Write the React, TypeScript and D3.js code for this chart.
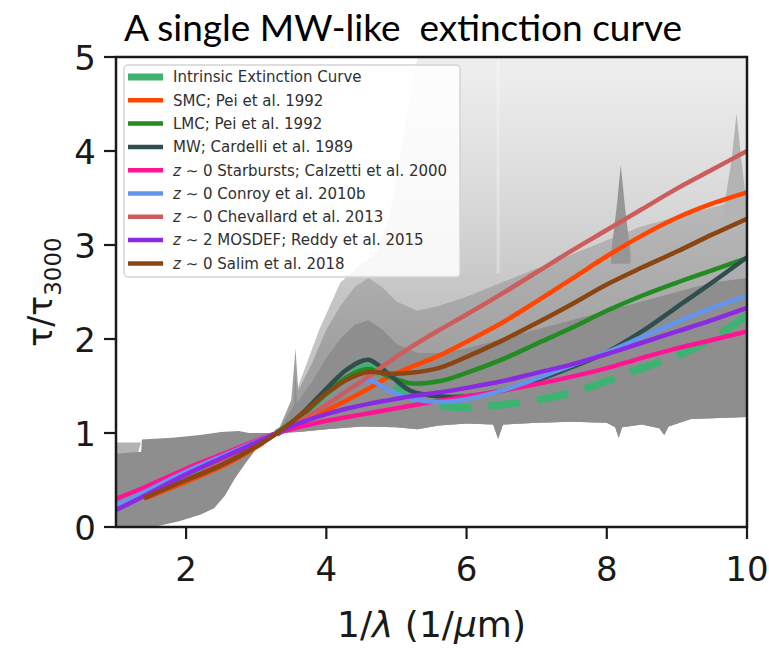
import React from "react";
import * as d3 from "d3";

const W = 769;
const H = 648;
const M = { left: 116, right: 747, top: 57, bottom: 527 };

const titleText = "A single MW-like  extinction curve";
const xTicks = [2, 4, 6, 8, 10];
const yTicks = [0, 1, 2, 3, 4, 5];

// shared x grid for the model curves (1/micron)
const xGrid = [1.0, 1.4, 2.0, 2.5, 3.0, 3.3, 3.6, 4.0, 4.3, 4.6, 4.9, 5.2, 5.6, 6.0, 6.5, 7.0, 7.5, 8.0, 8.5, 9.0, 9.5, 10];

const intrinsic = [null, 0.32, 0.52, 0.68, 0.87, 1.0, 1.15, 1.42, 1.6, 1.7, 1.55, 1.4, 1.3, 1.27, 1.3, 1.35, 1.43, 1.55, 1.69, 1.82, 2.0, 2.25];
const smc = [null, 0.3, 0.48, 0.64, 0.85, 1.0, 1.1, 1.24, 1.35, 1.47, 1.6, 1.7, 1.82, 1.97, 2.17, 2.4, 2.64, 2.88, 3.1, 3.29, 3.44, 3.56];
const lmc = [null, 0.36, 0.59, 0.75, 0.91, 1.0, 1.15, 1.42, 1.6, 1.68, 1.6, 1.53, 1.55, 1.64, 1.78, 1.95, 2.12, 2.3, 2.46, 2.6, 2.73, 2.86];
const mw = [null, 0.31, 0.5, 0.66, 0.86, 1.0, 1.17, 1.47, 1.68, 1.78, 1.62, 1.45, 1.39, 1.39, 1.45, 1.56, 1.7, 1.86, 2.08, 2.34, 2.6, 2.87];
const calzetti = [0.3, 0.42, 0.62, 0.77, 0.92, 1.0, 1.06, 1.13, 1.17, 1.21, 1.25, 1.29, 1.34, 1.39, 1.45, 1.52, 1.6, 1.69, 1.8, 1.9, 1.99, 2.08];
const conroy = [0.23, 0.37, 0.59, 0.75, 0.91, 1.0, 1.12, 1.3, 1.45, 1.56, 1.45, 1.37, 1.33, 1.36, 1.45, 1.58, 1.72, 1.86, 2.02, 2.18, 2.33, 2.46];
const chevallard = [null, 0.31, 0.5, 0.68, 0.88, 1.0, 1.12, 1.3, 1.45, 1.6, 1.76, 1.91, 2.09, 2.26, 2.48, 2.71, 2.94, 3.16, 3.38, 3.6, 3.8, 4.0];
const reddy = [0.18, 0.33, 0.56, 0.73, 0.9, 1.0, 1.1, 1.2, 1.26, 1.31, 1.35, 1.39, 1.43, 1.48, 1.55, 1.64, 1.73, 1.84, 1.96, 2.08, 2.2, 2.33];
const salim = [null, 0.31, 0.5, 0.66, 0.86, 1.0, 1.17, 1.42, 1.57, 1.65, 1.63, 1.64, 1.69, 1.81, 1.98, 2.17, 2.37, 2.58, 2.76, 2.93, 3.11, 3.28];

const seriesNames = [
  "Intrinsic Extinction Curve",
  "SMC; Pei et al. 1992",
  "LMC; Pei et al. 1992",
  "MW; Cardelli et al. 1989",
  "z ~ 0 Starbursts; Calzetti et al. 2000",
  "z ~ 0 Conroy et al. 2010b",
  "z ~ 0 Chevallard et al. 2013",
  "z ~ 2 MOSDEF; Reddy et al. 2015",
  "z ~ 0 Salim et al. 2018",
];
const seriesValues = [intrinsic, smc, lmc, mw, calzetti, conroy, chevallard, reddy, salim];
const seriesColors = ["#3cb371", "#ff4500", "#228b22", "#2f4f4f", "#ff1493", "#6495ed", "#cd5c5c", "#8a2be2", "#8b4513"];

// grey cloud of individual attenuation curves: envelopes
const cloudBottom = [[1.0, 0.0], [1.6, 0.01], [1.9, 0.06], [2.2, 0.13], [2.4, 0.2], [2.55, 0.33], [2.7, 0.52], [2.85, 0.68], [3.0, 0.83], [3.15, 0.93], [3.3, 1.0], [3.6, 1.01], [4.0, 1.04], [4.5, 1.07], [5.0, 1.06], [5.3, 1.04], [5.6, 1.08], [6.0, 1.1], [6.38, 1.09], [6.45, 0.94], [6.52, 1.09], [7.0, 1.11], [7.5, 1.12], [8.0, 1.11], [8.12, 1.06], [8.17, 0.95], [8.22, 1.06], [8.5, 1.09], [8.75, 1.05], [8.82, 0.98], [8.88, 1.07], [9.2, 1.15], [9.6, 1.16], [10, 1.17]];
const coreTop = [[1.0, 0.78], [1.36, 0.8], [1.37, 0.93], [1.8, 0.95], [2.2, 0.98], [2.5, 1.01], [2.75, 1.02], [2.9, 1.0], [3.3, 1.0], [3.5, 1.25], [3.54, 1.3], [3.56, 1.65], [3.58, 1.32], [3.8, 1.55], [4.0, 1.8], [4.2, 2.0], [4.4, 2.15], [4.6, 2.2], [4.8, 2.1], [5.0, 1.95], [5.3, 1.85], [5.6, 1.85], [6.0, 1.9], [6.5, 2.0], [7.0, 2.1], [7.5, 2.2], [8.0, 2.3], [8.5, 2.4], [9.0, 2.5], [9.5, 2.6], [10, 2.65]];
const leftStripTop = [[1.0, 0.9], [1.36, 0.9], [1.37, 0.93]];
const midTop = [[3.3, 1.0], [3.5, 1.35], [3.56, 1.9], [3.6, 1.45], [3.8, 1.75], [4.0, 2.1], [4.2, 2.35], [4.4, 2.55], [4.6, 2.65], [4.8, 2.55], [5.0, 2.4], [5.3, 2.3], [5.6, 2.35], [6.0, 2.45], [6.5, 2.6], [7.0, 2.75], [7.5, 2.9], [8.0, 3.05], [8.5, 3.2], [9.0, 3.3], [9.5, 3.4], [10, 3.5]];
const faintTop = [[3.3, 1.0], [3.6, 1.5], [3.9, 2.1], [4.2, 2.6], [4.5, 2.8], [4.7, 2.9], [4.9, 3.3], [5.1, 4.2], [5.3, 5.0], [10, 5.0]];
const spike82 = [[8.06, 2.9], [8.14, 3.4], [8.2, 3.85], [8.26, 3.4], [8.34, 2.9]];
const spike98 = [[9.65, 3.3], [9.78, 3.9], [9.85, 4.4], [9.92, 3.9], [10, 3.4]];
const paleColumn = [[6.45, 2.7], [6.45, 5.0]];

const x = d3.scaleLinear().domain([1, 10]).range([M.left, M.right]);
const y = d3.scaleLinear().domain([0, 5]).range([M.bottom, M.top]);

const ptLine = d3.line<number[]>().x((d) => x(d[0])).y((d) => y(d[1]));

function band(upper: number[][], lower: number[][]): string {
  const lo = lower.filter((p) => p[0] >= upper[0][0] - 1e-9 && p[0] <= upper[upper.length - 1][0] + 1e-9);
  const up = ptLine(upper) || "";
  const down = (ptLine(lo.slice().reverse()) || "").replace(/^M/, "L");
  return up + down + "Z";
}

function spikePath(pts: number[][], base: number): string {
  const closed = [[pts[0][0], base], ...pts, [pts[pts.length - 1][0], base]];
  return (ptLine(closed) || "") + "Z";
}

const curve = d3
  .line<[number, number | null]>()
  .defined((d) => d[1] !== null)
  .x((d) => x(d[0]))
  .y((d) => y(d[1] as number))
  .curve(d3.curveCatmullRom.alpha(0.5));

function LegendLabel({ text }: { text: string }) {
  const m = text.match(/^z ~ (\d)(.*)$/);
  if (m) {
    return (
      <>
        <tspan fontStyle="italic">z</tspan>
        <tspan>{" \u223C " + m[1] + m[2]}</tspan>
      </>
    );
  }
  return <tspan>{text}</tspan>;
}

export default function App() {
  const tickFont = "DejaVu Sans, sans-serif";
  const legX = 124;
  const legY = 65;
  const rowH = 23.3;
  const ink = "#1a1a1a";
  return (
    <svg width={W} height={H} style={{ display: "block", position: "absolute", left: 0, top: 0, background: "#fff" }}>
      <defs>
        <clipPath id="plotclip">
          <rect x={M.left} y={M.top} width={M.right - M.left} height={M.bottom - M.top} />
        </clipPath>
        <linearGradient id="sparse" gradientUnits="userSpaceOnUse" x1={0} x2={0} y1={y(2.4)} y2={y(4.8)}>
          <stop offset="0" stopColor="#c4c4c4" />
          <stop offset="0.45" stopColor="#d9d9d9" />
          <stop offset="1" stopColor="#ededed" />
        </linearGradient>
        <linearGradient id="midg" gradientUnits="userSpaceOnUse" x1={0} x2={0} y1={y(1.8)} y2={y(3.4)}>
          <stop offset="0" stopColor="#a0a0a0" />
          <stop offset="1" stopColor="#b8b8b8" />
        </linearGradient>
      </defs>
      <rect x={0} y={0} width={W} height={H} fill="#fff" />
      <text x={403} y={41} textAnchor="middle" fontFamily="Lato, sans-serif" fontSize={37} fill="#000" style={{ whiteSpace: "pre" }}>
        {titleText}
      </text>

      <g clipPath="url(#plotclip)">
        <path d={band(faintTop, cloudBottom)} fill="url(#sparse)" />
        <path d={band(midTop, cloudBottom)} fill="url(#midg)" />
        <path d={spikePath(spike82, 2.8)} fill="#969696" />
        <path d={spikePath(spike98, 3.2)} fill="#b4b4b4" />
        <path d={band(leftStripTop, cloudBottom)} fill="#b3b3b3" />
        <path d={band(coreTop, cloudBottom)} fill="#8e8e8e" />
        <path d={ptLine(paleColumn) || ""} stroke="#ffffff" strokeOpacity={0.3} strokeWidth={3} fill="none" />

        {seriesValues.map((vals, i) => {
          const data = xGrid.map((xv, j) => [xv, vals[j]] as [number, number | null]);
          return (
            <path
              key={i}
              d={curve(data) || ""}
              fill="none"
              stroke={seriesColors[i]}
              strokeWidth={i === 0 ? 7.5 : 4.5}
              strokeDasharray={i === 0 ? "32,17" : undefined}
              strokeLinecap="butt"
              strokeLinejoin="round"
            />
          );
        })}
      </g>

      {/* legend */}
      <rect x={legX} y={legY} width={336} height={212} rx={4} fill="#fff" fillOpacity={0.85} stroke="#d4d4d4" strokeWidth={1.5} />
      {seriesNames.map((name, i) => {
        const cy = legY + 12 + i * rowH;
        return (
          <g key={name}>
            <line x1={legX + 4} x2={legX + 39} y1={cy} y2={cy} stroke={seriesColors[i]} strokeWidth={i === 0 ? 7 : 4.5} />
            <text x={legX + 49} y={cy + 5.3} fontFamily={tickFont} fontSize={15} fill="#303030">
              <LegendLabel text={name} />
            </text>
          </g>
        );
      })}

      {/* frame */}
      <rect x={M.left} y={M.top} width={M.right - M.left} height={M.bottom - M.top} fill="none" stroke={ink} strokeWidth={2.5} />

      {/* ticks */}
      {xTicks.map((t) => (
        <g key={"x" + t}>
          <line x1={x(t)} x2={x(t)} y1={M.bottom} y2={M.bottom + 12} stroke={ink} strokeWidth={2.2} />
          <text x={x(t)} y={M.bottom + 54} textAnchor="middle" fontFamily={tickFont} fontSize={34} fill={ink}>
            {t}
          </text>
        </g>
      ))}
      {yTicks.map((t) => (
        <g key={"y" + t}>
          <line x1={M.left - 12} x2={M.left} y1={y(t)} y2={y(t)} stroke={ink} strokeWidth={2.2} />
          <text x={M.left - 20} y={y(t) + 12.5} textAnchor="end" fontFamily={tickFont} fontSize={34} fill={ink}>
            {t}
          </text>
        </g>
      ))}

      {/* axis labels */}
      <text x={(M.left + M.right) / 2} y={637} textAnchor="middle" fontFamily={tickFont} fontSize={36} fill={ink}>
        <tspan>1/</tspan>
        <tspan fontStyle="italic">λ</tspan>
        <tspan> (1/</tspan>
        <tspan fontStyle="italic">μ</tspan>
        <tspan>m)</tspan>
      </text>
      <text transform={`translate(52,${(M.top + M.bottom) / 2}) rotate(-90)`} textAnchor="middle" fontFamily={tickFont} fontSize={33} fill={ink}>
        <tspan>τ/τ</tspan>
        <tspan fontSize={23} dy={9}>3000</tspan>
      </text>
    </svg>
  );
}
